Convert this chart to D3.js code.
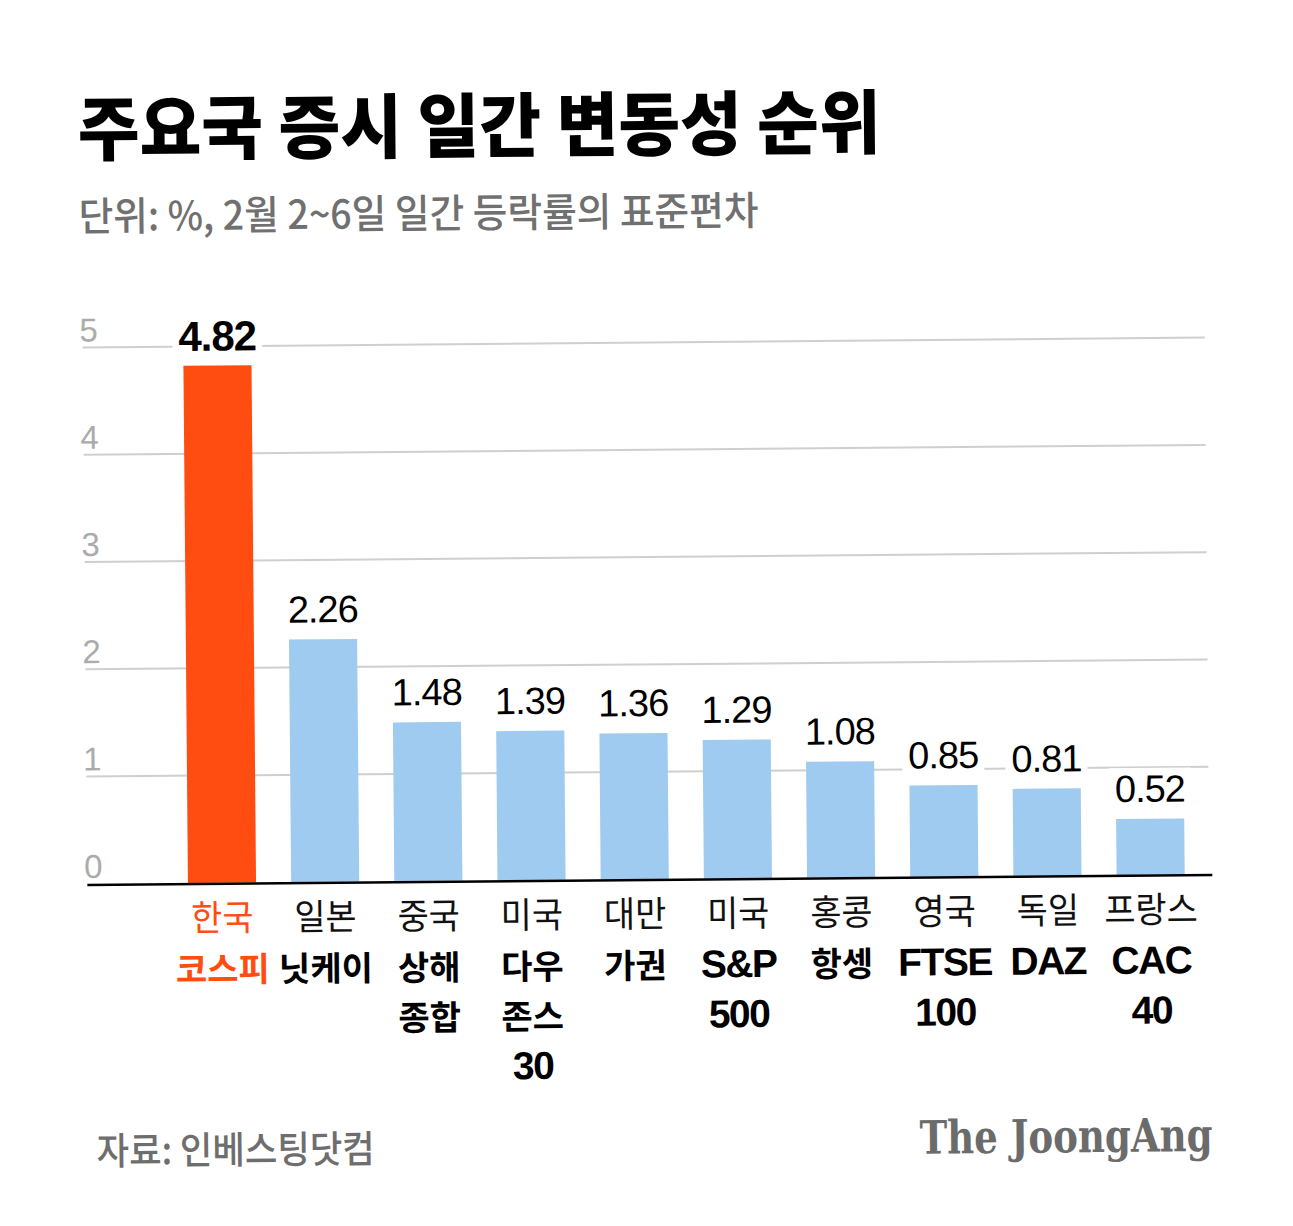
<!DOCTYPE html>
<html>
<head>
<meta charset="utf-8">
<script src="https://cdn.jsdelivr.net/npm/d3@7"></script>
<style>
  body { margin: 0; background: #fff; }
  svg { display: block; }
</style>
</head>
<body>
<div id="chart"></div>
<script>
const markets = ['한국', '일본', '중국', '미국', '대만', '미국', '홍콩', '영국', '독일', '프랑스'];
const indexNames = [['코스피'], ['닛케이'], ['상해', '종합'], ['다우', '존스', '30'], ['가권'],
  ['S&P', '500'], ['항셍'], ['FTSE', '100'], ['DAZ'], ['CAC', '40']];
const volatility = [4.82, 2.26, 1.48, 1.39, 1.36, 1.29, 1.08, 0.85, 0.81, 0.52];
const yTicks = [0, 1, 2, 3, 4, 5];

const W = 1293;
const H = 1226;
const KR = '"Noto Sans CJK KR", "Noto Sans", sans-serif';
const NUM = '"Liberation Sans", Arial, sans-serif';
const orange = '#ff4d12';
const blue = '#9ecbef';

const data = markets.map((m, i) => ({ market: m, index: indexNames[i], value: volatility[i], key: i }));

const svg = d3.select('#chart').append('svg')
  .attr('width', W)
  .attr('height', H);

// the original picture is tilted a little
const root = svg.append('g').attr('transform', `rotate(-0.5, ${W / 2}, ${H / 2})`);

// title + subtitle
root.append('text')
  .attr('x', 82).attr('y', 150)
  .attr('font-family', KR).attr('font-weight', 900).attr('font-size', 70)
  .attr('textLength', 803).attr('lengthAdjust', 'spacingAndGlyphs')
  .attr('fill', '#000')
  .text('주요국 증시 일간 변동성 순위');

root.append('text')
  .attr('x', 82).attr('y', 226)
  .attr('font-family', KR).attr('font-weight', 500).attr('font-size', 40)
  .attr('textLength', 680).attr('lengthAdjust', 'spacingAndGlyphs')
  .attr('fill', '#707070')
  .text('단위: %, 2월 2~6일 일간 등락률의 표준편차');

const x = d3.scaleBand()
  .domain(data.map((d) => d.key))
  .range([150, 1218])
  .paddingInner(0.34)
  .paddingOuter(0.345);

const y = d3.scaleLinear().domain([0, 5]).range([879, 342.5]);

// gridlines + tick labels
const grid = root.append('g');
grid.selectAll('line')
  .data(yTicks.filter((t) => t > 0))
  .enter()
  .append('line')
  .attr('x1', 85).attr('x2', 1207)
  .attr('y1', (d) => y(d)).attr('y2', (d) => y(d))
  .attr('stroke', '#cfcfcf')
  .attr('stroke-width', 2);

grid.selectAll('text')
  .data(yTicks)
  .enter()
  .append('text')
  .attr('x', 82)
  .attr('y', (d) => y(d) - 6)
  .attr('font-family', NUM).attr('font-size', 33)
  .attr('fill', '#ababab')
  .text((d) => d);

// value labels (white box hides the gridline behind)
const labels = root.append('g');

// bars
root.append('g').selectAll('rect')
  .data(data)
  .enter()
  .append('rect')
  .attr('x', (d) => x(d.key))
  .attr('width', x.bandwidth())
  .attr('y', (d) => y(d.value))
  .attr('height', (d) => y(0) - y(d.value))
  .attr('fill', (d, i) => (i === 0 ? orange : blue));

labels.selectAll('text')
  .data(data)
  .enter()
  .append('text')
  .attr('x', (d) => x(d.key) + x.bandwidth() / 2)
  .attr('y', (d, i) => y(d.value) - (i === 0 ? 15 : 17))
  .attr('text-anchor', 'middle')
  .attr('font-family', NUM)
  .attr('font-weight', (d, i) => (i === 0 ? 700 : 400))
  .attr('font-size', (d, i) => (i === 0 ? 42 : 38))
  .attr('letter-spacing', -1)
  .attr('fill', '#000')
  .text((d) => d.value.toFixed(2))
  .each(function () {
    const b = this.getBBox();
    labels.insert('rect', 'text')
      .attr('x', b.x - 6).attr('y', b.y)
      .attr('width', b.width + 12).attr('height', b.height)
      .attr('fill', '#fff');
  });

// baseline
root.append('line')
  .attr('x1', 85).attr('x2', 1210)
  .attr('y1', y(0) + 1).attr('y2', y(0) + 1)
  .attr('stroke', '#000')
  .attr('stroke-width', 2.5);

// category labels
const cats = root.append('g').selectAll('g')
  .data(data)
  .enter()
  .append('g')
  .attr('transform', (d) => `translate(${x(d.key) + x.bandwidth() / 2},0)`);

cats.append('text')
  .attr('y', 927)
  .attr('text-anchor', 'middle')
  .attr('font-family', KR).attr('font-weight', 400).attr('font-size', 36)
  .attr('transform', 'scale(0.94,1)')
  .attr('fill', (d, i) => (i === 0 ? orange : '#111'))
  .text((d) => d.market);

// index name: one text, one tspan per line
const isLatin = (t) => /^[\x00-\x7F]+$/.test(t);
cats.append('text')
  .attr('y', 978)
  .attr('text-anchor', 'middle')
  .attr('font-weight', 700)
  .attr('fill', (d, i) => (i === 0 ? orange : '#000'))
  .selectAll('tspan')
  .data((d) => d.index)
  .enter()
  .append('tspan')
  .attr('x', 0)
  .attr('y', (t, j) => 978 + j * 50)
  .attr('font-family', (t) => (isLatin(t) ? NUM : KR))
  .attr('font-size', (t) => (isLatin(t) ? 39 : 34))
  .attr('letter-spacing', (t) => (isLatin(t) ? -1.5 : 0))
  .text((t) => t);

// footer
root.append('text')
  .attr('x', 92).attr('y', 1160)
  .attr('font-family', KR).attr('font-weight', 500).attr('font-size', 38)
  .attr('textLength', 278).attr('lengthAdjust', 'spacingAndGlyphs')
  .attr('fill', '#6e6e6e')
  .text('자료: 인베스팅닷컴');

root.append('text')
  .attr('x', 915).attr('y', 1156)
  .attr('font-family', '"DejaVu Serif Condensed", "Liberation Serif", serif')
  .attr('font-weight', 700).attr('font-size', 46)
  .attr('textLength', 293).attr('lengthAdjust', 'spacingAndGlyphs')
  .attr('fill', '#6b6b6b')
  .text('The JoongAng');
</script>
</body>
</html>
